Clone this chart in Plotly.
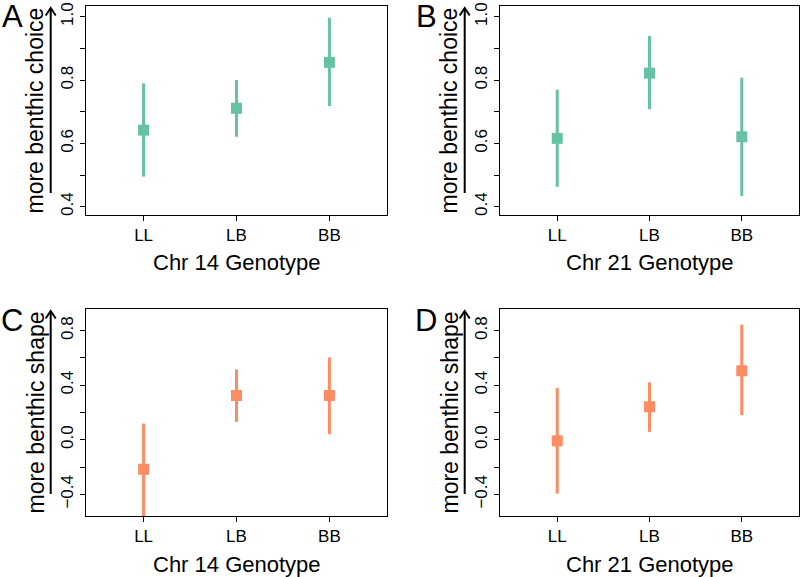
import plotly.graph_objects as go

genotypes = ["LL", "LB", "BB"]

# Panel A: Chr 14, benthic choice
a_mean = [0.642, 0.711, 0.856]
a_lo = [0.495, 0.621, 0.718]
a_hi = [0.790, 0.800, 0.997]
# Panel B: Chr 21, benthic choice
b_mean = [0.616, 0.822, 0.621]
b_lo = [0.463, 0.708, 0.434]
b_hi = [0.770, 0.939, 0.808]
# Panel C: Chr 14, benthic shape
c_mean = [-0.216, 0.325, 0.325]
c_lo = [-0.62, 0.131, 0.041]
c_hi = [0.119, 0.516, 0.604]
# Panel D: Chr 21, benthic shape
d_mean = [-0.008, 0.242, 0.506]
d_lo = [-0.395, 0.058, 0.181]
d_hi = [0.381, 0.421, 0.844]

choice_ticks = [0.4, 0.5, 0.6, 0.7, 0.8, 0.9, 1.0]
choice_labels = ["0.4", "", "0.6", "", "0.8", "", "1.0"]
shape_ticks = [-0.4, -0.2, 0.0, 0.2, 0.4, 0.6, 0.8]
shape_labels = ["\u22120.4", "", "0.0", "", "0.4", "", "0.8"]

GREEN = "#66c2a5"
ORANGE = "#fc8d62"
FONT = "Liberation Sans, Arial, Helvetica, sans-serif"
W, H = 800, 577

def px(x, y):
    return x / W, 1 - y / H

panels = [
    dict(letter="A", mean=a_mean, lo=a_lo, hi=a_hi, color=GREEN, xlab="Chr 14 Genotype",
         ylab="more benthic choice", ticks=choice_ticks, labels=choice_labels, yr=[0.374, 1.034],
         box=(86, 387, 6, 215)),
    dict(letter="B", mean=b_mean, lo=b_lo, hi=b_hi, color=GREEN, xlab="Chr 21 Genotype",
         ylab="more benthic choice", ticks=choice_ticks, labels=choice_labels, yr=[0.374, 1.034],
         box=(500, 799, 6, 215)),
    dict(letter="C", mean=c_mean, lo=c_lo, hi=c_hi, color=ORANGE, xlab="Chr 14 Genotype",
         ylab="more benthic shape", ticks=shape_ticks, labels=shape_labels, yr=[-0.559, 0.959],
         box=(86, 387, 309, 516)),
    dict(letter="D", mean=d_mean, lo=d_lo, hi=d_hi, color=ORANGE, xlab="Chr 21 Genotype",
         ylab="more benthic shape", ticks=shape_ticks, labels=shape_labels, yr=[-0.559, 0.959],
         box=(500, 799, 309, 516)),
]

fig = go.Figure()
annotations = []
shapes = []
layout = {}

for i, p in enumerate(panels):
    n = "" if i == 0 else str(i + 1)
    xa, ya = "x" + n, "y" + n
    xpos = [1, 2, 3]
    sx, sy = [], []
    for k in range(3):
        sx += [xpos[k], xpos[k], None]
        sy += [p["lo"][k], p["hi"][k], None]
    fig.add_trace(go.Scatter(x=sx, y=sy, mode="lines", line=dict(color=p["color"], width=3),
                             xaxis=xa, yaxis=ya, showlegend=False, hoverinfo="skip"))
    fig.add_trace(go.Scatter(x=xpos, y=p["mean"], mode="markers",
                             marker=dict(symbol="square", size=11, color=p["color"], line=dict(width=0)),
                             xaxis=xa, yaxis=ya, showlegend=False))
    x0, x1, y0, y1 = p["box"]
    layout["xaxis" + n] = dict(
        domain=[x0 / W, x1 / W], anchor=ya, range=[0.38, 3.62], automargin=False,
        tickvals=xpos, ticktext=genotypes, ticks="outside", ticklen=5, tickwidth=1,
        tickcolor="black", showline=True, mirror=True, linecolor="black", linewidth=1,
        showgrid=False, zeroline=False, tickfont=dict(family=FONT, size=17, color="black"),
    )
    layout["yaxis" + n] = dict(
        domain=[1 - y1 / H, 1 - y0 / H], anchor=xa, range=p["yr"], automargin=False,
        tickvals=p["ticks"], ticktext=p["labels"], ticks="outside", ticklen=5, tickwidth=1,
        tickcolor="black", tickangle=-90, showline=True, mirror=True, linecolor="black",
        linewidth=1, showgrid=False, zeroline=False,
        tickfont=dict(family=FONT, size=17, color="black"),
    )
    # x title
    annotations.append(dict(text=p["xlab"], x=((x0 + x1) / 2) / W, y=1 - (y1 + 48) / H,
                            xref="paper", yref="paper", showarrow=False, xanchor="center",
                            yanchor="middle", font=dict(family=FONT, size=22, color="black")))
    # y label
    lx = x0 - 51
    annotations.append(dict(text=p["ylab"], x=lx / W, y=1 - ((y0 + y1) / 2) / H, xref="paper",
                            yref="paper", showarrow=False, textangle=-90, xanchor="center",
                            yanchor="middle", font=dict(family=FONT, size=23, color="black")))
    # panel letter
    annotations.append(dict(text=p["letter"], x=(x0 - 74) / W, y=1 - (y0 + 11) / H, xref="paper",
                            yref="paper", showarrow=False, xanchor="center", yanchor="middle",
                            font=dict(family=FONT, size=31, color="black")))
    # arrow
    ax = x0 - 35.3
    tip_y = y0 + 2
    tail_y = y1 - 22
    X, Yt = px(ax, tip_y)
    _, Yb = px(ax, tail_y)
    shapes.append(dict(type="line", xref="paper", yref="paper", x0=X, x1=X, y0=Yb, y1=Yt,
                       line=dict(color="black", width=2)))
    lX, lY = px(ax - 5, tip_y + 7.5)
    rX, rY = px(ax + 5, tip_y + 7.5)
    shapes.append(dict(type="path", xref="paper", yref="paper",
                       path=f"M {lX} {lY} L {X} {Yt} L {rX} {rY}",
                       line=dict(color="black", width=2)))

fig.update_layout(
    width=W, height=H, margin=dict(l=0, r=0, t=0, b=0),
    paper_bgcolor="white", plot_bgcolor="white",
    annotations=annotations, shapes=shapes, **layout,
)

fig.write_html("out.html", config={"displayModeBar": False},
               post_script="document.body.style.margin='0';document.body.style.overflow='hidden';")
